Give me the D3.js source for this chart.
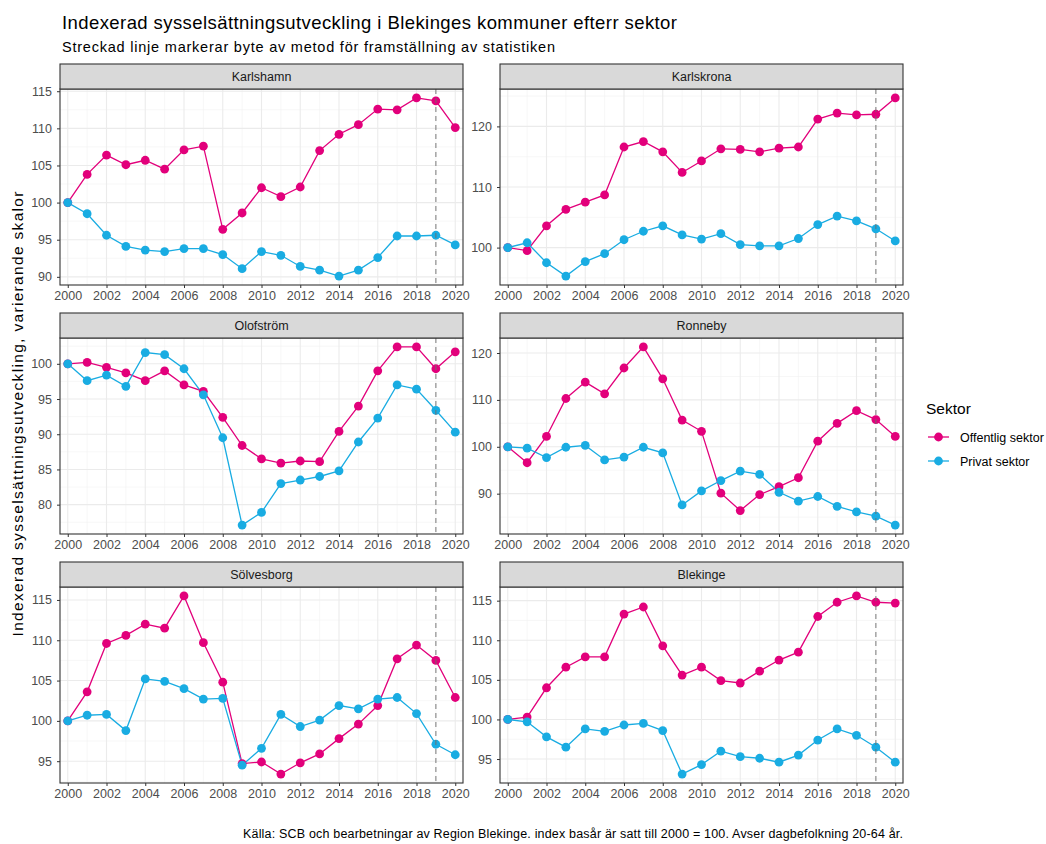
<!DOCTYPE html>
<html>
<head>
<meta charset="utf-8">
<script src="https://cdn.jsdelivr.net/npm/d3@7"></script>
<style>
  body { margin: 0; background: #fff; }
  text { font-family: "Liberation Sans", Arial, sans-serif; }
</style>
</head>
<body>
<div id="chart"></div>
<script>
const width = 1046;
const height = 844;

// data
const years = [2000, 2001, 2002, 2003, 2004, 2005, 2006, 2007, 2008, 2009, 2010,
  2011, 2012, 2013, 2014, 2015, 2016, 2017, 2018, 2019, 2020];
const xTicks = [2000, 2002, 2004, 2006, 2008, 2010, 2012, 2014, 2016, 2018, 2020];
const kommuner = ["Karlshamn", "Karlskrona", "Olofström", "Ronneby", "Sölvesborg", "Blekinge"];
const sektorer = ["Offentlig sektor", "Privat sektor"];
const metodByte = 2019;

const offentlig = {
  "Karlshamn":  [100, 103.8, 106.4, 105.1, 105.7, 104.5, 107.1, 107.6, 96.4, 98.6, 102.0, 100.8, 102.1, 107.0, 109.2, 110.5, 112.6, 112.5, 114.1, 113.7, 110.1],
  "Karlskrona": [100, 99.5, 103.6, 106.3, 107.5, 108.7, 116.6, 117.5, 115.8, 112.4, 114.3, 116.3, 116.2, 115.8, 116.4, 116.6, 121.2, 122.2, 121.9, 122.0, 124.7],
  "Olofström":  [100, 100.2, 99.5, 98.7, 97.6, 99.0, 97.0, 96.1, 92.4, 88.4, 86.5, 85.9, 86.2, 86.1, 90.4, 94.0, 99.0, 102.4, 102.4, 99.3, 101.7],
  "Ronneby":    [100, 96.6, 102.2, 110.3, 113.8, 111.3, 116.8, 121.3, 114.5, 105.7, 103.3, 90.1, 86.4, 89.8, 91.5, 93.4, 101.2, 105.0, 107.7, 105.8, 102.2],
  "Sölvesborg": [100, 103.6, 109.6, 110.6, 112.0, 111.5, 115.5, 109.7, 104.8, 94.7, 94.9, 93.4, 94.8, 95.9, 97.8, 99.6, 101.9, 107.7, 109.4, 107.5, 102.9],
  "Blekinge":   [100, 100.3, 104.0, 106.6, 107.9, 107.9, 113.3, 114.2, 109.3, 105.6, 106.6, 104.9, 104.6, 106.1, 107.5, 108.5, 113.0, 114.8, 115.6, 114.8, 114.7]
};

const privat = {
  "Karlshamn":  [100, 98.5, 95.6, 94.1, 93.6, 93.4, 93.8, 93.8, 93.0, 91.1, 93.4, 92.9, 91.4, 90.9, 90.1, 90.9, 92.6, 95.5, 95.5, 95.6, 94.3],
  "Karlskrona": [100, 100.8, 97.5, 95.3, 97.7, 99.0, 101.3, 102.7, 103.6, 102.1, 101.4, 102.3, 100.5, 100.3, 100.3, 101.5, 103.8, 105.2, 104.4, 103.1, 101.1],
  "Olofström":  [100, 97.6, 98.4, 96.8, 101.6, 101.3, 99.3, 95.6, 89.5, 77.1, 78.9, 83.0, 83.5, 84.0, 84.8, 88.9, 92.3, 97.0, 96.4, 93.4, 90.3],
  "Ronneby":    [100, 99.7, 97.7, 99.9, 100.3, 97.2, 97.8, 99.9, 98.7, 87.6, 90.6, 92.8, 94.8, 94.1, 90.3, 88.4, 89.4, 87.3, 86.1, 85.2, 83.3],
  "Sölvesborg": [100, 100.7, 100.8, 98.8, 105.2, 104.9, 104.0, 102.7, 102.8, 94.5, 96.6, 100.8, 99.3, 100.1, 101.9, 101.5, 102.7, 102.9, 100.9, 97.1, 95.8],
  "Blekinge":   [100, 99.7, 97.8, 96.5, 98.8, 98.5, 99.3, 99.5, 98.6, 93.1, 94.3, 96.0, 95.3, 95.1, 94.6, 95.5, 97.4, 98.8, 98.0, 96.5, 94.6]
};

const yTicks = {
  "Karlshamn":  [90, 95, 100, 105, 110, 115],
  "Karlskrona": [100, 110, 120],
  "Olofström":  [80, 85, 90, 95, 100],
  "Ronneby":    [90, 100, 110, 120],
  "Sölvesborg": [95, 100, 105, 110, 115],
  "Blekinge":   [95, 100, 105, 110, 115]
};

const colors = { "Offentlig sektor": "#e2007b", "Privat sektor": "#19ace2" };

// layout
const colLeft = [60, 500];
const panelW = 403;
const rowTop = [64, 313, 562];
const stripH = 25;
const plotH = 196;

const svg = d3.select("#chart")
  .append("svg")
  .attr("width", width)
  .attr("height", height)
  .style("background", "white");

// titles (textLength to match the wider spacing of the original rendering)
svg.append("text")
  .attr("x", 62)
  .attr("y", 29)
  .attr("font-size", "18.5px")
  .attr("fill", "#000")
  .attr("textLength", 615)
  .attr("lengthAdjust", "spacing")
  .text("Indexerad sysselsättningsutveckling i Blekinges kommuner efterr sektor");

svg.append("text")
  .attr("x", 62)
  .attr("y", 52)
  .attr("font-size", "14.5px")
  .attr("fill", "#000")
  .attr("textLength", 493)
  .attr("lengthAdjust", "spacing")
  .text("Streckad linje markerar byte av metod för framställning av statistiken");

svg.append("text")
  .attr("transform", `translate(23, 414) rotate(-90)`)
  .attr("text-anchor", "middle")
  .attr("font-size", "15.5px")
  .attr("fill", "#000")
  .attr("textLength", 445)
  .attr("lengthAdjust", "spacing")
  .text("Indexerad sysselsättningsutveckling, varierande skalor");

kommuner.forEach((name, i) => {
  const left = colLeft[i % 2];
  const top = rowTop[Math.floor(i / 2)];
  const plotTop = top + stripH;
  const g = svg.append("g");

  const off = offentlig[name];
  const pri = privat[name];
  const all = off.concat(pri);
  const ymin = d3.min(all), ymax = d3.max(all);
  const pad = (ymax - ymin) * 0.05;

  const x = d3.scaleLinear()
    .domain([1999.6, 2020.4])
    .range([left, left + panelW]);
  const y = d3.scaleLinear()
    .domain([ymin - pad, ymax + pad])
    .range([plotTop + plotH, plotTop]);

  // panel background
  g.append("rect")
    .attr("x", left).attr("y", plotTop)
    .attr("width", panelW).attr("height", plotH)
    .attr("fill", "white");

  // minor grid
  const yt = yTicks[name];
  const step = yt[1] - yt[0];
  const yMinor = [];
  for (let v = yt[0] - step / 2; v <= ymax + pad; v += step) {
    if (v >= ymin - pad) yMinor.push(v);
  }
  const xMinor = years.filter(d => d % 2 === 1);

  g.selectAll("line.ymin")
    .data(yMinor)
    .enter().append("line")
    .attr("x1", left).attr("x2", left + panelW)
    .attr("y1", d => y(d)).attr("y2", d => y(d))
    .attr("stroke", "#f2f2f2").attr("stroke-width", 0.6);
  g.selectAll("line.xmin")
    .data(xMinor)
    .enter().append("line")
    .attr("x1", d => x(d)).attr("x2", d => x(d))
    .attr("y1", plotTop).attr("y2", plotTop + plotH)
    .attr("stroke", "#f2f2f2").attr("stroke-width", 0.6);

  // major grid
  g.selectAll("line.ymaj")
    .data(yt)
    .enter().append("line")
    .attr("x1", left).attr("x2", left + panelW)
    .attr("y1", d => y(d)).attr("y2", d => y(d))
    .attr("stroke", "#ebebeb").attr("stroke-width", 1.1);
  g.selectAll("line.xmaj")
    .data(xTicks)
    .enter().append("line")
    .attr("x1", d => x(d)).attr("x2", d => x(d))
    .attr("y1", plotTop).attr("y2", plotTop + plotH)
    .attr("stroke", "#ebebeb").attr("stroke-width", 1.1);

  // lines first, then points (private drawn over public, as in the original)
  const line = d3.line()
    .x((d, j) => x(years[j]))
    .y(d => y(d));
  const series = [["Offentlig sektor", off], ["Privat sektor", pri]];

  series.forEach(([s, vals]) => {
    g.append("path")
      .datum(vals)
      .attr("d", line)
      .attr("fill", "none")
      .attr("stroke", colors[s])
      .attr("stroke-width", 1.3);
  });
  series.forEach(([s, vals]) => {
    g.selectAll(null)
      .data(vals)
      .enter().append("circle")
      .attr("cx", (d, j) => x(years[j]))
      .attr("cy", d => y(d))
      .attr("r", 4.4)
      .attr("fill", colors[s]);
  });

  // dashed method change line
  g.append("line")
    .attr("x1", x(metodByte)).attr("x2", x(metodByte))
    .attr("y1", plotTop).attr("y2", plotTop + plotH)
    .attr("stroke", "#6e6e6e")
    .attr("stroke-opacity", 0.85)
    .attr("stroke-width", 1.1)
    .attr("stroke-dasharray", "5,4");

  // panel border
  g.append("rect")
    .attr("x", left).attr("y", plotTop)
    .attr("width", panelW).attr("height", plotH)
    .attr("fill", "none")
    .attr("stroke", "#333").attr("stroke-width", 1.1);

  // strip
  g.append("rect")
    .attr("x", left).attr("y", top)
    .attr("width", panelW).attr("height", stripH)
    .attr("fill", "#d9d9d9")
    .attr("stroke", "#333").attr("stroke-width", 1.1);
  g.append("text")
    .attr("x", left + panelW / 2)
    .attr("y", top + stripH / 2 + 4.5)
    .attr("text-anchor", "middle")
    .attr("font-size", "12.5px")
    .attr("fill", "#1a1a1a")
    .text(name);

  // axes
  const xAxis = d3.axisBottom(x)
    .tickValues(xTicks)
    .tickFormat(d3.format("d"))
    .tickSize(3)
    .tickPadding(3);
  const yAxis = d3.axisLeft(y)
    .tickValues(yt)
    .tickFormat(d3.format("d"))
    .tickSize(3)
    .tickPadding(5);

  const xa = g.append("g")
    .attr("transform", `translate(0,${plotTop + plotH})`)
    .call(xAxis);
  const ya = g.append("g")
    .attr("transform", `translate(${left},0)`)
    .call(yAxis);

  [xa, ya].forEach(a => {
    a.select(".domain").remove();
    a.selectAll(".tick line").attr("stroke", "#333");
    a.selectAll(".tick text")
      .attr("fill", "#4d4d4d")
      .attr("font-size", "12.5px")
      .style("font-family", "'Liberation Sans', Arial, sans-serif");
  });
});

// legend
const legend = svg.append("g");
legend.append("text")
  .attr("x", 926)
  .attr("y", 414)
  .attr("font-size", "15.5px")
  .attr("fill", "#000")
  .text("Sektor");

legend.selectAll("g.item")
  .data(sektorer)
  .enter().append("g")
  .attr("transform", (d, i) => `translate(0, ${437 + i * 24})`)
  .each(function (d) {
    const it = d3.select(this);
    it.append("line")
      .attr("x1", 928).attr("x2", 949)
      .attr("y1", 0).attr("y2", 0)
      .attr("stroke", colors[d]).attr("stroke-width", 1.3);
    it.append("circle")
      .attr("cx", 938.5).attr("cy", 0).attr("r", 4.4)
      .attr("fill", colors[d]);
    it.append("text")
      .attr("x", 960).attr("y", 4.5)
      .attr("font-size", "12.5px")
      .attr("fill", "#000")
      .text(d);
  });

// caption
svg.append("text")
  .attr("x", 903)
  .attr("y", 838)
  .attr("text-anchor", "end")
  .attr("font-size", "12.5px")
  .attr("fill", "#000")
  .attr("textLength", 660)
  .attr("lengthAdjust", "spacing")
  .text("Källa: SCB och bearbetningar av Region Blekinge. index basår är satt till 2000 = 100. Avser dagbefolkning 20-64 år.");
</script>
</body>
</html>
